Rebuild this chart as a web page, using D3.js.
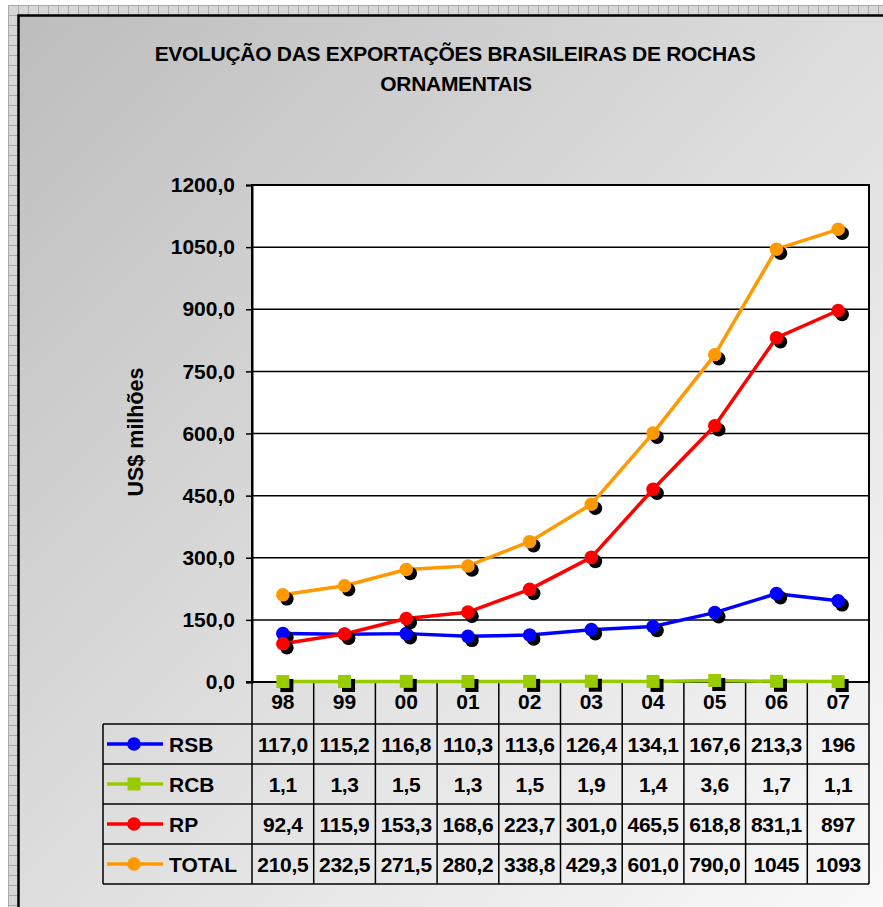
<!DOCTYPE html>
<html>
<head>
<meta charset="utf-8">
<script src="https://cdn.jsdelivr.net/npm/d3@7"></script>
<style>
  body { margin: 0; background: #fff; }
  text { font-family: "Liberation Sans", Arial, sans-serif; font-weight: bold; fill: #000; }
</style>
</head>
<body>
<svg id="chart"></svg>
<script>
const years = ["98", "99", "00", "01", "02", "03", "04", "05", "06", "07"];

// values as printed in the data table (decimal comma)
const RSB = ["117,0", "115,2", "116,8", "110,3", "113,6", "126,4", "134,1", "167,6", "213,3", "196"];
const RCB = ["1,1", "1,3", "1,5", "1,3", "1,5", "1,9", "1,4", "3,6", "1,7", "1,1"];
const RP = ["92,4", "115,9", "153,3", "168,6", "223,7", "301,0", "465,5", "618,8", "831,1", "897"];
const TOTAL = ["210,5", "232,5", "271,5", "280,2", "338,8", "429,3", "601,0", "790,0", "1045", "1093"];

const yTicks = [0, 150, 300, 450, 600, 750, 900, 1050, 1200];

const seriesNames = ["RSB", "RCB", "RP", "TOTAL"];
const seriesColors = ["#0000ff", "#99cc00", "#ff0000", "#ff9900"];
const seriesShapes = ["circle", "square", "circle", "circle"];

const width = 883, height = 907;
const plot = {left: 252, right: 869, top: 185, bottom: 682};
const legendLeft = 103;
const fs = 21;

const series = [RSB, RCB, RP, TOTAL].map((vals, i) => ({
  name: seriesNames[i],
  color: seriesColors[i],
  shape: seriesShapes[i],
  labels: vals,
  values: vals.map(s => +s.replace(",", "."))
}));

const svg = d3.select("#chart")
  .attr("width", width)
  .attr("height", height);

const defs = svg.append("defs");

// excel sheet grid around the chart object
const pat = defs.append("pattern")
  .attr("id", "cells")
  .attr("patternUnits", "userSpaceOnUse")
  .attr("width", 10)
  .attr("height", 10)
  .attr("x", 8)
  .attr("y", 5);
pat.append("rect").attr("width", 10).attr("height", 10).attr("fill", "#d6d6d6");
pat.append("path").attr("d", "M0,0.5H10M0.5,0V10").attr("stroke", "#aaaaaa").attr("stroke-width", 1);

const grad = defs.append("linearGradient")
  .attr("id", "bg")
  .attr("x1", 0).attr("y1", 0).attr("x2", 1).attr("y2", 1);
grad.append("stop").attr("offset", "0%").attr("stop-color", "#bdbdbd");
grad.append("stop").attr("offset", "55%").attr("stop-color", "#e2e2e2");
grad.append("stop").attr("offset", "100%").attr("stop-color", "#fbfbfb");

svg.append("rect")
  .attr("x", 8).attr("y", 5)
  .attr("width", width - 8).attr("height", height - 5)
  .attr("fill", "url(#cells)");

svg.append("rect")
  .attr("x", 18.5).attr("y", 15.5)
  .attr("width", width + 20).attr("height", height + 20)
  .attr("fill", "url(#bg)")
  .attr("stroke", "#000")
  .attr("stroke-width", 2.5);

// title
const title = svg.append("text")
  .attr("text-anchor", "middle")
  .attr("font-size", fs)
  .attr("letter-spacing", -0.3);
title.append("tspan").attr("x", 455).attr("y", 61).text("EVOLUÇÃO DAS EXPORTAÇÕES  BRASILEIRAS DE ROCHAS");
title.append("tspan").attr("x", 456).attr("y", 91).text("ORNAMENTAIS");

// scales
const x = d3.scaleBand()
  .domain(years)
  .range([plot.left, plot.right]);

const y = d3.scaleLinear()
  .domain([0, 1200])
  .range([plot.bottom, plot.top]);

// plot area
svg.append("rect")
  .attr("x", plot.left).attr("y", plot.top)
  .attr("width", plot.right - plot.left).attr("height", plot.bottom - plot.top)
  .attr("fill", "#fff")
  .attr("stroke", "#000")
  .attr("stroke-width", 2);

svg.append("g")
  .selectAll("line")
  .data(yTicks.filter(d => d > 0 && d < 1200))
  .join("line")
  .attr("x1", plot.left).attr("x2", plot.right)
  .attr("y1", d => y(d)).attr("y2", d => y(d))
  .attr("stroke", "#000")
  .attr("stroke-width", 1.5);

const yAxis = svg.append("g")
  .attr("transform", `translate(${plot.left},0)`)
  .call(d3.axisLeft(y)
    .tickValues(yTicks)
    .tickSize(6)
    .tickPadding(11)
    .tickFormat(d => d3.format(".1f")(d).replace(".", ",")));
yAxis.select(".domain").attr("stroke-width", 2);
yAxis.selectAll(".tick line").attr("stroke-width", 1.5);
yAxis.selectAll(".tick text")
  .attr("font-size", fs)
  .attr("font-family", "Liberation Sans, Arial, sans-serif")
  .attr("font-weight", "bold")
  .attr("fill", "#000");

svg.append("text")
  .attr("transform", "translate(143,432) rotate(-90)")
  .attr("text-anchor", "middle")
  .attr("font-size", 21.5)
  .text("US$ milhões");

// data table
const rows = d3.scaleBand()
  .domain(seriesNames)
  .range([724, 884]);

const table = svg.append("g")
  .attr("stroke", "#000")
  .attr("stroke-width", 1.5);

table.selectAll("line.h")
  .data([724, ...seriesNames.map(n => rows(n) + rows.bandwidth())])
  .join("line")
  .attr("x1", legendLeft).attr("x2", plot.right)
  .attr("y1", d => d).attr("y2", d => d);

table.selectAll("line.v")
  .data([...years.map(d => x(d)), plot.right])
  .join("line")
  .attr("x1", d => d).attr("x2", d => d)
  .attr("y1", plot.bottom).attr("y2", 884);

table.append("line")
  .attr("x1", legendLeft).attr("x2", legendLeft)
  .attr("y1", 724).attr("y2", 884);

// axis line over the header row
svg.append("line")
  .attr("x1", plot.left - 6).attr("x2", plot.right)
  .attr("y1", plot.bottom).attr("y2", plot.bottom)
  .attr("stroke", "#000")
  .attr("stroke-width", 2);

svg.append("g")
  .selectAll("text")
  .data(years)
  .join("text")
  .attr("x", d => x(d) + x.bandwidth() / 2)
  .attr("y", 709)
  .attr("text-anchor", "middle")
  .attr("font-size", fs)
  .text(d => d);

const rowG = svg.append("g")
  .selectAll("g")
  .data(series)
  .join("g")
  .attr("transform", d => `translate(0,${rows(d.name)})`);

rowG.selectAll("text.val")
  .data(d => d.labels)
  .join("text")
  .attr("x", (d, i) => x(years[i]) + x.bandwidth() / 2)
  .attr("y", rows.bandwidth() / 2 + 7.5)
  .attr("text-anchor", "middle")
  .attr("font-size", fs)
  .attr("letter-spacing", -0.3)
  .text(d => d);

rowG.append("line")
  .attr("x1", legendLeft + 4).attr("x2", 163)
  .attr("y1", rows.bandwidth() / 2).attr("y2", rows.bandwidth() / 2)
  .attr("stroke", d => d.color)
  .attr("stroke-width", 3.5);

function marker(sel, cx, cy, shadow) {
  sel.each(function (d) {
    const g = d3.select(this);
    const s = d.shape || d.series.shape;
    const color = d.color || d.series.color;
    const px = cx(d), py = cy(d);
    const offs = shadow ? [[4, 4, "#000"], [0, 0, color]] : [[0, 0, color]];
    offs.forEach(([dx, dy, c]) => {
      if (s === "square") {
        g.append("rect")
          .attr("x", px - 6.5 + dx).attr("y", py - 6.5 + dy)
          .attr("width", 13).attr("height", 13)
          .attr("fill", c);
      } else {
        g.append("circle")
          .attr("cx", px + dx).attr("cy", py + dy)
          .attr("r", 6.8)
          .attr("fill", c);
      }
    });
  });
}

rowG.append("g")
  .call(marker, () => 134, () => rows.bandwidth() / 2, false);

rowG.append("text")
  .attr("x", 169)
  .attr("y", rows.bandwidth() / 2 + 7.5)
  .attr("font-size", fs)
  .text(d => d.name);

// lines and markers
const line = d3.line()
  .x((d, i) => x(years[i]) + x.bandwidth() / 2)
  .y(d => y(d));

const serG = svg.append("g")
  .selectAll("g")
  .data(series)
  .join("g");

serG.append("path")
  .attr("d", d => line(d.values))
  .attr("fill", "none")
  .attr("stroke", d => d.color)
  .attr("stroke-width", 3.5)
  .attr("stroke-linejoin", "round");

serG.selectAll("g.pt")
  .data(d => d.values.map((v, i) => ({v, i, series: d})))
  .join("g")
  .call(marker, d => x(years[d.i]) + x.bandwidth() / 2, d => y(d.v), true);
</script>
</body>
</html>
